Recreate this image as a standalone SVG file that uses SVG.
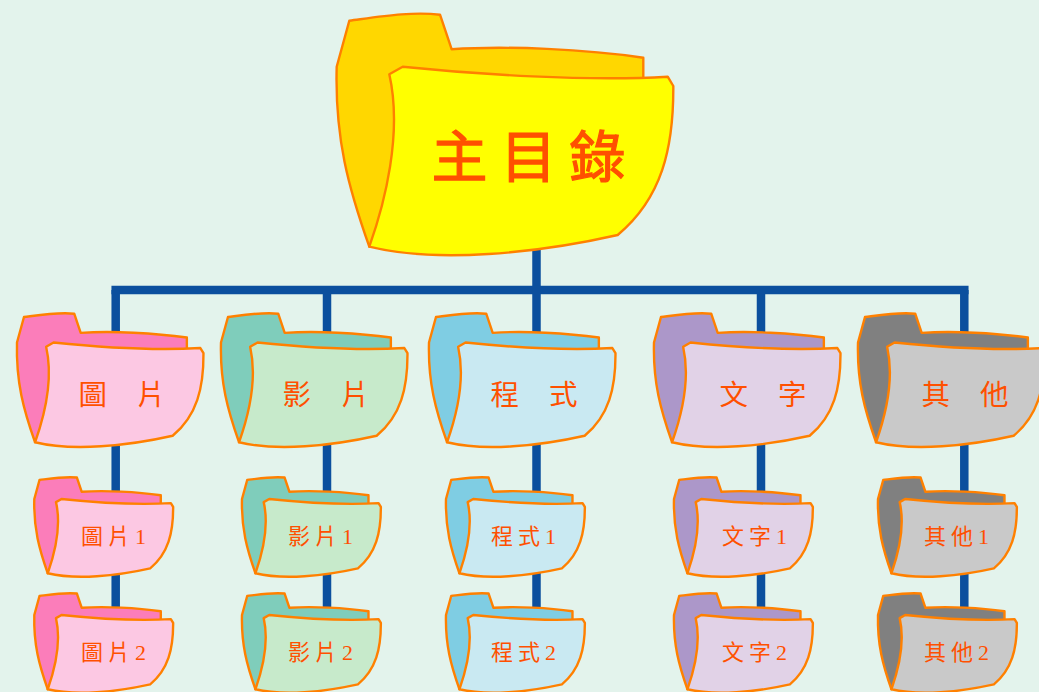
<svg xmlns="http://www.w3.org/2000/svg" xmlns:xlink="http://www.w3.org/1999/xlink" width="1039" height="692" viewBox="0 0 1039 692">
<style>
.bg{fill:#E3F3EC}
.back,.front{stroke:#FF8000;stroke-width:2.4;stroke-linejoin:round;vector-effect:non-scaling-stroke}
.back{fill:var(--b)}
.front{fill:var(--f)}
.links path{fill:none;stroke:#0B4F9E;stroke-width:8.5}
text{fill:#FF5000;font-family:"Liberation Serif","Noto Sans CJK TC",serif;text-anchor:middle}
.t0{font-size:56px;letter-spacing:13px;stroke:#FF5000;stroke-width:1.2}
.t1{font-size:28.5px;word-spacing:23px}
.t2{font-size:22px;letter-spacing:5px}
.pink{--b:#FB7DBA;--f:#FCC8E3}
.green{--b:#7FCDBB;--f:#C7EACB}
.blue{--b:#7FCDE3;--f:#C9E9F2}
.purple{--b:#AC97C9;--f:#E1D2E7}
.gray{--b:#808080;--f:#C9C9C9}
.gold{--b:#FFD700;--f:#FFFF00}
</style>
<defs>
<g id="folder">
<path class="back" d="M12.6,7.3C45,3 75,-2 103.3,1.3L115,35.9C170,32 250,36 306.6,44.3L306.6,70L100,70L100,170L32.6,233.3C12,175 -2,125 0,53.3Z"/>
<path class="front" d="M52.6,60.9L66,53.3C140,61 250,68 331,63.3L336.6,72.6C337,135 325,185 281,221.6C200,240 100,250 32.6,233.3C48,190 66,120 52.6,60.9Z"/>
</g>
</defs>
<rect class="bg" width="1039" height="692"/>
<g id="connectors" class="links">
<path d="M536.5,250V290"/>
<path d="M115.7,290H964.3" stroke-linecap="square"/>
<path d="M115.7,290V640"/>
<path d="M327,290V640"/>
<path d="M536.5,290V640"/>
<path d="M761,290V640"/>
<path d="M964.3,290V640"/>
</g>
<g id="root" class="gold"><use xlink:href="#folder" href="#folder" transform="translate(336.7,13.4)"/><text class="t0" x="535" y="177">主目錄</text></g>

<g id="pic" class="pink"><use href="#folder" transform="translate(17,313) scale(.554)"/><text class="t1" x="122" y="405">圖 片</text></g>
<g id="vid" class="green"><use href="#folder" transform="translate(221,313) scale(.554)"/><text class="t1" x="326" y="405">影 片</text></g>
<g id="prg" class="blue"><use href="#folder" transform="translate(429,313) scale(.554)"/><text class="t1" x="534" y="405">程 式</text></g>
<g id="txt" class="purple"><use href="#folder" transform="translate(654,313) scale(.554)"/><text class="t1" x="763" y="405">文 字</text></g>
<g id="oth" class="gray"><use href="#folder" transform="translate(858,313) scale(.554)"/><text class="t1" x="965" y="405">其 他</text></g>

<g id="pic1" class="pink"><use href="#folder" transform="translate(34.3,477) scale(.4125)"/><text class="t2" x="116" y="544">圖片1</text></g>
<g id="pic2" class="pink"><use href="#folder" transform="translate(34.3,593) scale(.4125)"/><text class="t2" x="116" y="660">圖片2</text></g>
<g id="vid1" class="green"><use href="#folder" transform="translate(242,477) scale(.4125)"/><text class="t2" x="323" y="544">影片1</text></g>
<g id="vid2" class="green"><use href="#folder" transform="translate(242,593) scale(.4125)"/><text class="t2" x="323" y="660">影片2</text></g>
<g id="prg1" class="blue"><use href="#folder" transform="translate(446,477) scale(.4125)"/><text class="t2" x="526" y="544">程式1</text></g>
<g id="prg2" class="blue"><use href="#folder" transform="translate(446,593) scale(.4125)"/><text class="t2" x="526" y="660">程式2</text></g>
<g id="txt1" class="purple"><use href="#folder" transform="translate(674,477) scale(.4125)"/><text class="t2" x="757" y="544">文字1</text></g>
<g id="txt2" class="purple"><use href="#folder" transform="translate(674,593) scale(.4125)"/><text class="t2" x="757" y="660">文字2</text></g>
<g id="oth1" class="gray"><use href="#folder" transform="translate(878,477) scale(.4125)"/><text class="t2" x="959" y="544">其他1</text></g>
<g id="oth2" class="gray"><use href="#folder" transform="translate(878,593) scale(.4125)"/><text class="t2" x="959" y="660">其他2</text></g>
</svg>
